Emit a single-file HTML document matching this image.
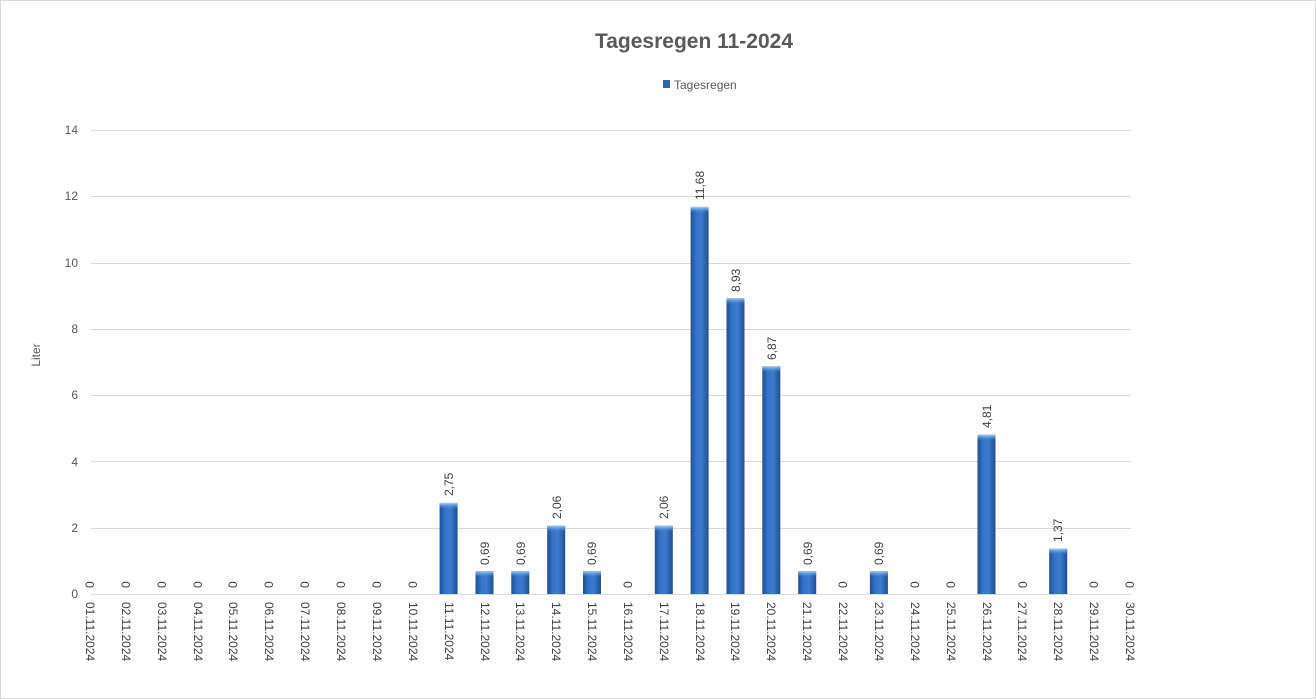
<!DOCTYPE html>
<html><head><meta charset="utf-8"><style>
html,body{margin:0;padding:0;background:#fff}
svg{display:block;font-family:"Liberation Sans",sans-serif}
</style></head><body>
<svg width="1316" height="699" viewBox="0 0 1316 699" xmlns="http://www.w3.org/2000/svg">
<defs>
<linearGradient id="g" x1="0" x2="1" y1="0" y2="0">
<stop offset="0" stop-color="#1f4f8f"/><stop offset="0.3" stop-color="#3473c9"/><stop offset="0.6" stop-color="#3c7bd0"/><stop offset="1" stop-color="#1f4f8f"/>
</linearGradient>
<linearGradient id="t" x1="0" x2="0" y1="0" y2="1">
<stop offset="0" stop-color="#a8d0f5"/><stop offset="1" stop-color="#4a8ad8" stop-opacity="0"/>
</linearGradient>
<g id="bt"><rect x="0" y="0" width="18" height="6" fill="url(#t)"/></g>
</defs>
<rect x="0.5" y="0.5" width="1315" height="698" fill="#fff" stroke="#d9d9d9"/>
<text x="694" y="48" text-anchor="middle" font-size="21" font-weight="bold" fill="#595959">Tagesregen 11-2024</text>
<rect x="663" y="80" width="7" height="8" fill="#2e66b5"/>
<text x="674" y="89" font-size="12" fill="#595959">Tagesregen</text>
<g stroke="#d9d9d9" stroke-width="1">
<line x1="91" x2="1131" y1="594.5" y2="594.5"/>
<line x1="91" x2="1131" y1="528.5" y2="528.5"/>
<line x1="91" x2="1131" y1="461.5" y2="461.5"/>
<line x1="91" x2="1131" y1="395.5" y2="395.5"/>
<line x1="91" x2="1131" y1="329.5" y2="329.5"/>
<line x1="91" x2="1131" y1="263.5" y2="263.5"/>
<line x1="91" x2="1131" y1="196.5" y2="196.5"/>
<line x1="91" x2="1131" y1="130.5" y2="130.5"/>
</g>
<g font-size="12" fill="#595959" text-anchor="end">
<text x="78" y="598">0</text><text x="78" y="532">2</text><text x="78" y="466">4</text><text x="78" y="399">6</text><text x="78" y="333">8</text><text x="78" y="267">10</text><text x="78" y="200">12</text><text x="78" y="134">14</text>
</g>
<text transform="translate(40,355) rotate(-90)" font-size="12" fill="#595959" text-anchor="middle">Liter</text>
<g fill="url(#g)">
<rect x="439.6" y="502.9" width="18" height="91.1"/>
<rect x="475.5" y="571.1" width="18" height="22.9"/>
<rect x="511.3" y="571.1" width="18" height="22.9"/>
<rect x="547.2" y="525.7" width="18" height="68.3"/>
<rect x="583.0" y="571.1" width="18" height="22.9"/>
<rect x="654.8" y="525.7" width="18" height="68.3"/>
<rect x="690.6" y="206.9" width="18" height="387.1"/>
<rect x="726.5" y="298.1" width="18" height="295.9"/>
<rect x="762.3" y="366.3" width="18" height="227.7"/>
<rect x="798.2" y="571.1" width="18" height="22.9"/>
<rect x="869.9" y="571.1" width="18" height="22.9"/>
<rect x="977.5" y="434.6" width="18" height="159.4"/>
<rect x="1049.2" y="548.6" width="18" height="45.4"/>
</g>
<g>
<use href="#bt" x="439.6" y="502.9"/><use href="#bt" x="475.5" y="571.1"/><use href="#bt" x="511.3" y="571.1"/><use href="#bt" x="547.2" y="525.7"/><use href="#bt" x="583.0" y="571.1"/><use href="#bt" x="654.8" y="525.7"/><use href="#bt" x="690.6" y="206.9"/><use href="#bt" x="726.5" y="298.1"/><use href="#bt" x="762.3" y="366.3"/><use href="#bt" x="798.2" y="571.1"/><use href="#bt" x="869.9" y="571.1"/><use href="#bt" x="977.5" y="434.6"/><use href="#bt" x="1049.2" y="548.6"/>
</g>
<g font-size="12" fill="#404040">
<text transform="translate(453,496) rotate(-90)">2,75</text>
<text transform="translate(489,565) rotate(-90)">0,69</text>
<text transform="translate(525,565) rotate(-90)">0,69</text>
<text transform="translate(561,519) rotate(-90)">2,06</text>
<text transform="translate(596,565) rotate(-90)">0,69</text>
<text transform="translate(668,519) rotate(-90)">2,06</text>
<text transform="translate(704,200) rotate(-90)">11,68</text>
<text transform="translate(740,292) rotate(-90)">8,93</text>
<text transform="translate(776,360) rotate(-90)">6,87</text>
<text transform="translate(812,565) rotate(-90)">0,69</text>
<text transform="translate(883,565) rotate(-90)">0,69</text>
<text transform="translate(991,428) rotate(-90)">4,81</text>
<text transform="translate(1062,542) rotate(-90)">1,37</text>
<text transform="translate(94,588) rotate(-90)">0</text>
<text transform="translate(130,588) rotate(-90)">0</text>
<text transform="translate(166,588) rotate(-90)">0</text>
<text transform="translate(202,588) rotate(-90)">0</text>
<text transform="translate(237,588) rotate(-90)">0</text>
<text transform="translate(273,588) rotate(-90)">0</text>
<text transform="translate(309,588) rotate(-90)">0</text>
<text transform="translate(345,588) rotate(-90)">0</text>
<text transform="translate(381,588) rotate(-90)">0</text>
<text transform="translate(417,588) rotate(-90)">0</text>
<text transform="translate(632,588) rotate(-90)">0</text>
<text transform="translate(847,588) rotate(-90)">0</text>
<text transform="translate(919,588) rotate(-90)">0</text>
<text transform="translate(955,588) rotate(-90)">0</text>
<text transform="translate(1027,588) rotate(-90)">0</text>
<text transform="translate(1098,588) rotate(-90)">0</text>
<text transform="translate(1134,588) rotate(-90)">0</text>
</g>
<g font-size="12" fill="#404040">
<text transform="translate(86,602) rotate(90)">01.11.2024</text>
<text transform="translate(122,602) rotate(90)">02.11.2024</text>
<text transform="translate(158,602) rotate(90)">03.11.2024</text>
<text transform="translate(194,602) rotate(90)">04.11.2024</text>
<text transform="translate(229,602) rotate(90)">05.11.2024</text>
<text transform="translate(265,602) rotate(90)">06.11.2024</text>
<text transform="translate(301,602) rotate(90)">07.11.2024</text>
<text transform="translate(337,602) rotate(90)">08.11.2024</text>
<text transform="translate(373,602) rotate(90)">09.11.2024</text>
<text transform="translate(409,602) rotate(90)">10.11.2024</text>
<text transform="translate(445,602) rotate(90)">11.11.2024</text>
<text transform="translate(481,602) rotate(90)">12.11.2024</text>
<text transform="translate(516,602) rotate(90)">13.11.2024</text>
<text transform="translate(552,602) rotate(90)">14.11.2024</text>
<text transform="translate(588,602) rotate(90)">15.11.2024</text>
<text transform="translate(624,602) rotate(90)">16.11.2024</text>
<text transform="translate(660,602) rotate(90)">17.11.2024</text>
<text transform="translate(696,602) rotate(90)">18.11.2024</text>
<text transform="translate(731,602) rotate(90)">19.11.2024</text>
<text transform="translate(767,602) rotate(90)">20.11.2024</text>
<text transform="translate(803,602) rotate(90)">21.11.2024</text>
<text transform="translate(839,602) rotate(90)">22.11.2024</text>
<text transform="translate(875,602) rotate(90)">23.11.2024</text>
<text transform="translate(911,602) rotate(90)">24.11.2024</text>
<text transform="translate(947,602) rotate(90)">25.11.2024</text>
<text transform="translate(983,602) rotate(90)">26.11.2024</text>
<text transform="translate(1018,602) rotate(90)">27.11.2024</text>
<text transform="translate(1054,602) rotate(90)">28.11.2024</text>
<text transform="translate(1090,602) rotate(90)">29.11.2024</text>
<text transform="translate(1126,602) rotate(90)">30.11.2024</text>
</g>
</svg>
</body></html>
